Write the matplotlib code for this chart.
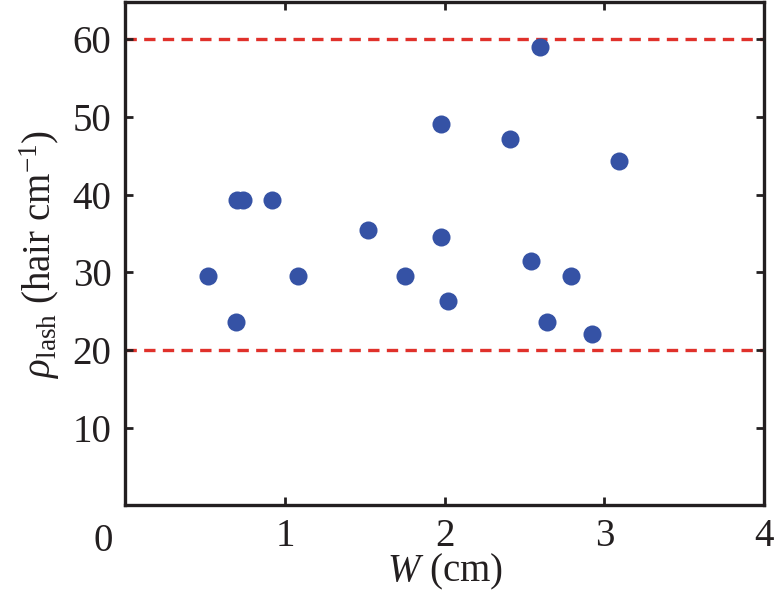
import matplotlib
matplotlib.use("Agg")
import matplotlib.pyplot as plt

# Data
width_cm = [0.52, 0.69, 0.70, 0.735, 0.92, 1.08, 1.52, 1.98, 1.98, 1.75,
            2.02, 2.41, 2.60, 2.54, 2.79, 2.64, 2.92, 3.09]
rho_lash = [29.5, 23.6, 39.3, 39.3, 39.3, 29.5, 35.4, 49.1, 34.5, 29.5,
            26.3, 47.2, 59.0, 31.4, 29.5, 23.6, 22.0, 44.3]
bounds = [20, 60]
xticks = [1, 2, 3, 4]
yticks = [10, 20, 30, 40, 50, 60]

plt.rcParams['font.family'] = ['Liberation Serif', 'DejaVu Serif']
plt.rcParams['mathtext.fontset'] = 'custom'
plt.rcParams['mathtext.rm'] = 'Liberation Serif'
plt.rcParams['mathtext.it'] = 'Liberation Serif:italic'

ink = '#231f20'
fs = 28
fig = plt.figure(figsize=(7.76, 5.91), dpi=100)
ax = fig.add_axes([0.1616, 0.1448, 0.8229, 0.852])

for b in bounds:
    ax.axhline(b, color='#e0312b', lw=2.4, ls=(0, (3.4, 2.2)), zorder=1)
ax.plot(width_cm, rho_lash, 'o', color='#3552a5', ms=13, mec='none', zorder=3)

ax.set_xlim(0, 4)
ax.set_ylim(0, 64.8)
ax.set_xticks(xticks)
ax.set_yticks(yticks)
ax.set_xticklabels([str(t) for t in xticks])
ax.set_yticklabels([str(t) for t in yticks])
ax.tick_params(direction='in', length=6, width=2, color=ink, labelcolor=ink,
               labelsize=fs, top=True, right=True, pad=9)
ax.tick_params(axis='y', pad=10)
for s in ax.spines.values():
    s.set_linewidth(2.4)
    s.set_color(ink)

ax.text(-0.14, -0.072, '0', transform=ax.get_xaxis_transform(), fontsize=fs,
        color=ink, ha='center', va='center')

ax.set_xlabel(r'$W$ (cm)', fontsize=fs, color=ink, labelpad=-2)
ax.set_ylabel(r'$\rho_{\mathrm{lash}}$ (hair cm$^{-1}$)', fontsize=fs, color=ink, labelpad=8)

fig.savefig('out.png', dpi=100)
